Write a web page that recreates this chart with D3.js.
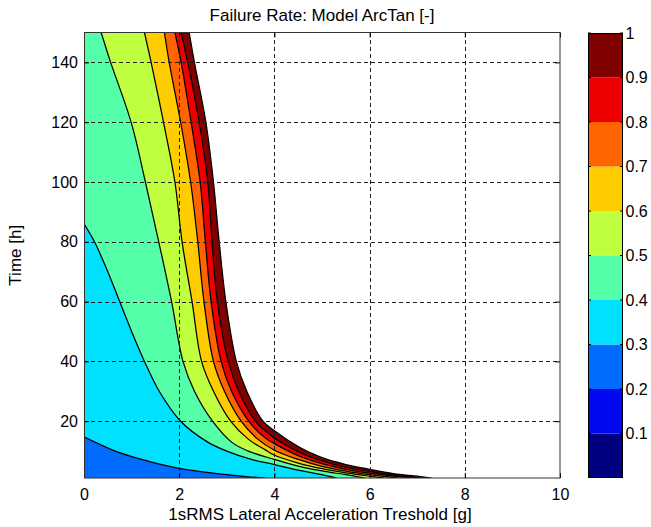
<!DOCTYPE html>
<html>
<head>
<meta charset="utf-8">
<script src="https://cdn.jsdelivr.net/npm/d3@7"></script>
<style>
  body { margin: 0; background: #fff; }
  svg { display: block; }
  text { font-family: "Liberation Sans", Arial, Helvetica, sans-serif; fill: #000; }
</style>
</head>
<body>
<svg id="chart" width="651" height="527"></svg>
<script>
// ---- data -----------------------------------------------------------
const xTicks = [0, 2, 4, 6, 8, 10];
const yTicks = [20, 40, 60, 80, 100, 120, 140];
const colorbarTicks = [0.1, 0.2, 0.3, 0.4, 0.5, 0.6, 0.7, 0.8, 0.9, 1];
const bandEdges = [0, 0.1, 0.2, 0.3, 0.4, 0.5, 0.6, 0.7, 0.8, 0.9, 1];
const bandColors = ["#000080", "#0008F0", "#006CFF", "#00E0FF", "#55FFAA",
                    "#BFFF40", "#FFCC00", "#FF6400", "#EE0000", "#800000"];

// iso-lines of the failure rate, [acceleration threshold g, time h]
const contourLevels = [0.3, 0.4, 0.5, 0.6, 0.7, 0.8, 0.9, 1.0];
const contour030 = [[0, 14.8], [0.7, 9.75], [1.4, 6.4], [2.0, 4.2], [2.8, 2.5], [3.4, 1.5], [3.8, 1]];
const contour040 = [[0, 86], [0.22, 80], [0.5, 70], [0.75, 60], [1.0, 50], [1.27, 40], [1.58, 30],
                    [2.03, 20], [2.6, 13], [3.0, 10], [3.5, 7.3], [4.0, 5.5], [4.5, 3.6], [5.0, 2.1], [5.3, 1]];
const contour050 = [[0.36, 150], [0.56, 140], [0.99, 120], [1.29, 100], [1.57, 80], [1.84, 60], [2.08, 40],
                    [2.32, 30], [2.70, 20], [3.1, 13], [3.45, 10], [4.0, 7.2], [4.5, 5.0], [5.0, 3.4], [5.5, 2.1], [5.9, 1]];
const contour060 = [[1.27, 150], [1.41, 140], [1.67, 120], [1.91, 100], [2.06, 80], [2.27, 60], [2.47, 40],
                    [2.72, 30], [3.08, 20], [3.45, 14], [3.8, 10.5], [4.0, 8.6], [4.5, 6.0], [5.0, 4.1], [5.5, 2.7], [6.0, 1.6], [6.3, 1]];
const contour070 = [[1.69, 150], [1.79, 140], [2.03, 120], [2.24, 100], [2.39, 80], [2.52, 60], [2.72, 40],
                    [2.95, 30], [3.3, 20], [3.65, 14], [4.0, 10.3], [4.5, 7.2], [5.0, 4.9], [5.5, 3.3], [6.0, 2.1], [6.6, 1]];
const contour080 = [[1.91, 150], [2.04, 140], [2.25, 120], [2.44, 100], [2.55, 80], [2.67, 60], [2.88, 40],
                    [3.1, 30], [3.46, 20], [3.8, 14.5], [4.0, 12.5], [4.5, 8.5], [5.0, 5.8], [5.5, 3.9], [6.0, 2.6], [6.5, 1.6], [6.9, 1]];
const contour090 = [[2.04, 150], [2.18, 140], [2.42, 120], [2.60, 100], [2.69, 80], [2.80, 60], [3.03, 40],
                    [3.25, 30], [3.6, 20], [4.0, 14.4], [4.5, 9.8], [5.0, 6.7], [5.5, 4.6], [6.0, 3.2], [6.5, 2.0], [7.1, 1]];
const contour100 = [[2.21, 150], [2.32, 140], [2.56, 120], [2.72, 100], [2.84, 80], [2.98, 60], [3.2, 40],
                    [3.42, 30], [3.76, 20], [4.0, 16.8], [4.5, 11.5], [4.75, 9.5], [5.0, 7.8], [5.5, 5.5], [6.0, 3.9],
                    [6.5, 2.5], [7.0, 1.6], [7.3, 1]];
const contourLines = [contour030, contour040, contour050, contour060,
                      contour070, contour080, contour090, contour100];

// ---- layout ---------------------------------------------------------
const plot = { left: 84, right: 560, top: 32.5, bottom: 478 };
const cbar = { left: 588, right: 623, top: 33, bottom: 478 };

const svg = d3.select("#chart");
const x = d3.scaleLinear().domain([0, 10]).range([plot.left, plot.right]);
const y = d3.scaleLinear().domain([1, 150]).range([plot.bottom, plot.top]);

svg.append("defs").append("clipPath").attr("id", "plotClip")
  .append("rect")
  .attr("x", plot.left).attr("y", plot.top)
  .attr("width", plot.right - plot.left).attr("height", plot.bottom - plot.top);

const isoLine = d3.line()
  .x(d => x(d[0])).y(d => y(d[1]))
  .curve(d3.curveCatmullRom.alpha(0.5));

const field = svg.append("g").attr("clip-path", "url(#plotClip)");

// filled bands: paint the region below each iso-line, highest level first
const fillOrder = d3.range(contourLevels.length).reverse();
field.selectAll("path.band")
  .data(fillOrder)
  .join("path")
  .attr("class", "band")
  .attr("d", i => isoLine(contourLines[i]) +
      `L${x(0)},${y(1)}L${x(0)},${y(150)}Z`)
  .attr("fill", i => bandColors[Math.round(contourLevels[i] * 10) - 1])
  .attr("stroke", "none");

// contour lines
field.selectAll("path.iso")
  .data(contourLines)
  .join("path")
  .attr("class", "iso")
  .attr("d", d => isoLine(d))
  .attr("fill", "none")
  .attr("stroke", "#000")
  .attr("stroke-width", 1.25);

// dashed grid
const grid = svg.append("g").attr("stroke", "#222").attr("stroke-width", 1)
  .attr("stroke-dasharray", "4,3");
grid.selectAll("line.gx")
  .data(xTicks.filter(v => v > 0 && v < 10))
  .join("line")
  .attr("x1", d => Math.round(x(d)) + 0.5).attr("x2", d => Math.round(x(d)) + 0.5)
  .attr("y1", plot.bottom).attr("y2", plot.top);
grid.selectAll("line.gy")
  .data(yTicks)
  .join("line")
  .attr("y1", d => Math.round(y(d)) + 0.5).attr("y2", d => Math.round(y(d)) + 0.5)
  .attr("x1", plot.left).attr("x2", plot.right);

// axes with inward ticks
const tickLen = 5;
const axisFont = 16;
const gx = svg.append("g").attr("transform", `translate(0,${plot.bottom})`)
  .call(d3.axisBottom(x).tickValues(xTicks).tickSize(-tickLen).tickPadding(10.5).tickFormat(d3.format("d")));
const gxt = svg.append("g").attr("transform", `translate(0,${plot.top})`)
  .call(d3.axisTop(x).tickValues(xTicks).tickSize(-tickLen).tickFormat(""));
const gy = svg.append("g").attr("transform", `translate(${plot.left},0)`)
  .call(d3.axisLeft(y).tickValues(yTicks).tickSize(-tickLen).tickPadding(6).tickFormat(d3.format("d")));
const gyr = svg.append("g").attr("transform", `translate(${plot.right},0)`)
  .call(d3.axisRight(y).tickValues(yTicks).tickSize(-tickLen).tickFormat(""));
[gx, gxt, gy, gyr].forEach(g => {
  g.select(".domain").remove();
  g.selectAll(".tick line").attr("stroke", "#000");
  g.selectAll("text").attr("font-size", axisFont)
    .attr("font-family", "'Liberation Sans', Arial, sans-serif").attr("fill", "#000");
});

// axes box
svg.append("rect")
  .attr("x", plot.left + 0.5).attr("y", plot.top)
  .attr("width", plot.right - plot.left - 0.5).attr("height", plot.bottom - plot.top)
  .attr("fill", "none").attr("stroke", "#333").attr("stroke-width", 1);

// titles
svg.append("text")
  .attr("x", (plot.left + plot.right) / 2).attr("y", 21)
  .attr("text-anchor", "middle").attr("font-size", 17)
  .text("Failure Rate: Model ArcTan [-]");
svg.append("text")
  .attr("x", (plot.left + plot.right) / 2 - 2).attr("y", 520)
  .attr("text-anchor", "middle").attr("font-size", 17)
  .text("1sRMS Lateral Acceleration Treshold [g]");
svg.append("text")
  .attr("transform", `translate(21,${(plot.top + plot.bottom) / 2}) rotate(-90)`)
  .attr("text-anchor", "middle").attr("font-size", 17)
  .text("Time [h]");

// ---- colorbar -------------------------------------------------------
const cb = d3.scaleLinear().domain([0, 1]).range([cbar.bottom, cbar.top]);
const cbg = svg.append("g");
cbg.selectAll("rect.band")
  .data(d3.range(bandColors.length))
  .join("rect")
  .attr("class", "band")
  .attr("x", cbar.left).attr("width", cbar.right - cbar.left)
  .attr("y", i => cb(bandEdges[i + 1]))
  .attr("height", i => cb(bandEdges[i]) - cb(bandEdges[i + 1]))
  .attr("fill", i => bandColors[i]);
cbg.append("rect")
  .attr("x", cbar.left + 0.5).attr("y", cbar.top + 0.5)
  .attr("width", cbar.right - cbar.left - 1).attr("height", cbar.bottom - cbar.top - 1)
  .attr("fill", "none").attr("stroke", "#000").attr("stroke-width", 1);
cbg.selectAll("line.tl")
  .data(colorbarTicks)
  .join("line")
  .attr("x1", cbar.left).attr("x2", cbar.left + 3)
  .attr("y1", d => cb(d)).attr("y2", d => cb(d))
  .attr("stroke", "#000");
cbg.selectAll("line.tr")
  .data(colorbarTicks)
  .join("line")
  .attr("x1", cbar.right - 3).attr("x2", cbar.right)
  .attr("y1", d => cb(d)).attr("y2", d => cb(d))
  .attr("stroke", "#000");
cbg.selectAll("text")
  .data(colorbarTicks)
  .join("text")
  .attr("x", cbar.right + 2.5)
  .attr("y", d => cb(d))
  .attr("dy", "0.35em")
  .attr("font-size", 16)
  .text(d => d === 1 ? "1" : d3.format(".1f")(d));
</script>
</body>
</html>
